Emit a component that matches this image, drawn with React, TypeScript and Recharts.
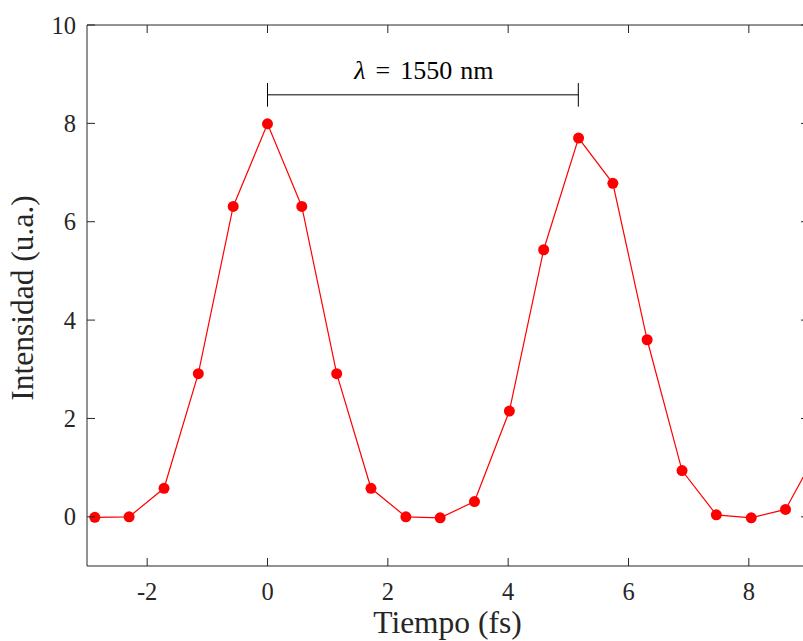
import React from 'react';
import { LineChart, Line, XAxis, YAxis, ReferenceLine, Customized } from 'recharts';

// Data
const tiempo = [-2.87, -2.30, -1.72, -1.15, -0.57, 0, 0.57, 1.15, 1.72, 2.30, 2.87, 3.44, 4.02, 4.59, 5.17, 5.74, 6.31, 6.89, 7.46, 8.04, 8.61, 9.19];
const intensidad = [-0.01, 0.0, 0.58, 2.91, 6.31, 7.99, 6.31, 2.91, 0.58, 0.0, -0.02, 0.31, 2.15, 5.43, 7.70, 6.78, 3.60, 0.94, 0.04, -0.02, 0.15, 1.45];
const xTicks = [-2, 0, 2, 4, 6, 8];
const yTicks = [0, 2, 4, 6, 8, 10];
const xDomain = [-3, 9];
const yDomain = [-1, 10];
const periodStart = 0;
const periodEnd = 5.166;
const periodY = 8.58;
const capHalf = 0.24;
const annotationNumber = '1550';
const annotationUnit = 'nm';
const xTitle = 'Tiempo (fs)';
const yTitle = 'Intensidad (u.a.)';

const data = tiempo.map((t, i) => ({ t, v: intensidad[i] }));

const FONT = '"Liberation Serif", "Times New Roman", serif';
const AXIS = '#262626';
const TICK_LEN = 8;

const BottomTick = (props: any) => {
  const { x, y, payload } = props;
  return (
    <g>
      <line x1={x} y1={y} x2={x} y2={y - TICK_LEN} stroke={AXIS} strokeWidth={1} />
      <text x={x} y={y + 34} textAnchor="middle" style={{ fontFamily: FONT, fontSize: 24.5 }} fill={AXIS}>
        {String(payload.value)}
      </text>
    </g>
  );
};

const TopTick = (props: any) => {
  const { x, y } = props;
  return <line x1={x} y1={y} x2={x} y2={y + TICK_LEN} stroke={AXIS} strokeWidth={1} />;
};

const LeftTick = (props: any) => {
  const { x, y, payload } = props;
  return (
    <g>
      <line x1={x} y1={y} x2={x + TICK_LEN} y2={y} stroke={AXIS} strokeWidth={1} />
      <text x={x - 11} y={y + 8.5} textAnchor="end" style={{ fontFamily: FONT, fontSize: 24.5 }} fill={AXIS}>
        {String(payload.value)}
      </text>
    </g>
  );
};

const RightTick = (props: any) => {
  const { x, y } = props;
  return <line x1={x} y1={y} x2={x - TICK_LEN} y2={y} stroke={AXIS} strokeWidth={1} />;
};

const PeriodLabel = (props: any) => {
  const vb = props.viewBox || {};
  const cx = (vb.x || 0) + (vb.width || 0) / 2;
  const y = (vb.y || 0) - 16;
  return (
    <text x={cx + 1} y={y} textAnchor="middle" style={{ fontFamily: FONT, fontSize: 26 }} fill="#000">
      <tspan style={{ fontStyle: 'italic' }}>λ</tspan>
      <tspan dx={10}>=</tspan>
      <tspan dx={10}>{annotationNumber}</tspan>
      <tspan dx={8}>{annotationUnit}</tspan>
    </text>
  );
};

const Titles = () => (
  <g>
    <text x={447.5} y={633} textAnchor="middle" style={{ fontFamily: FONT, fontSize: 31.5 }} fill={AXIS}>
      {xTitle}
    </text>
    <text x={33} y={298} textAnchor="middle" style={{ fontFamily: FONT, fontSize: 31.5 }} fill={AXIS} transform="rotate(-90, 33, 298)">
      {yTitle}
    </text>
  </g>
);

export default function App() {
  return (
    <div style={{ position: 'absolute', left: 0, top: 0, width: 803, height: 641, background: '#fff', overflow: 'hidden' }}>
      <LineChart width={803} height={641} data={data} margin={{ top: 25, right: -6, bottom: 75, left: 87 }}>
        <XAxis
          xAxisId="b"
          dataKey="t"
          type="number"
          domain={xDomain}
          ticks={xTicks}
          allowDataOverflow
          orientation="bottom"
          mirror
          tickSize={0}
          tickMargin={0}
          tickLine={false}
          axisLine={{ stroke: AXIS, strokeWidth: 1 }}
          tick={<BottomTick />}
          interval={0}
        />
        <XAxis
          xAxisId="t"
          dataKey="t"
          type="number"
          domain={xDomain}
          ticks={xTicks}
          allowDataOverflow
          orientation="top"
          mirror
          tickSize={0}
          tickMargin={0}
          tickLine={false}
          axisLine={{ stroke: AXIS, strokeWidth: 1 }}
          tick={<TopTick />}
          interval={0}
        />
        <YAxis
          yAxisId="l"
          type="number"
          domain={yDomain}
          ticks={yTicks}
          allowDataOverflow
          orientation="left"
          mirror
          tickSize={0}
          tickMargin={0}
          tickLine={false}
          axisLine={{ stroke: AXIS, strokeWidth: 1 }}
          tick={<LeftTick />}
          interval={0}
        />
        <YAxis
          yAxisId="r"
          type="number"
          domain={yDomain}
          ticks={yTicks}
          allowDataOverflow
          orientation="right"
          mirror
          tickSize={0}
          tickMargin={0}
          tickLine={false}
          axisLine={{ stroke: AXIS, strokeWidth: 1 }}
          tick={<RightTick />}
          interval={0}
        />
        <ReferenceLine
          xAxisId="b"
          yAxisId="l"
          segment={[{ x: periodStart, y: periodY }, { x: periodEnd, y: periodY }]}
          stroke="#000"
          strokeWidth={1}
          label={<PeriodLabel />}
        />
        <ReferenceLine
          xAxisId="b"
          yAxisId="l"
          segment={[{ x: periodStart, y: periodY - capHalf }, { x: periodStart, y: periodY + capHalf }]}
          stroke="#000"
          strokeWidth={1}
        />
        <ReferenceLine
          xAxisId="b"
          yAxisId="l"
          segment={[{ x: periodEnd, y: periodY - capHalf }, { x: periodEnd, y: periodY + capHalf }]}
          stroke="#000"
          strokeWidth={1}
        />
        <Line
          xAxisId="b"
          yAxisId="l"
          dataKey="v"
          type="linear"
          stroke="#ff0000"
          strokeWidth={1.2}
          dot={{ r: 5.5, fill: '#ff0000', stroke: 'none', strokeWidth: 0 }}
          isAnimationActive={false}
        />
        <Customized component={Titles} />
      </LineChart>
    </div>
  );
}
